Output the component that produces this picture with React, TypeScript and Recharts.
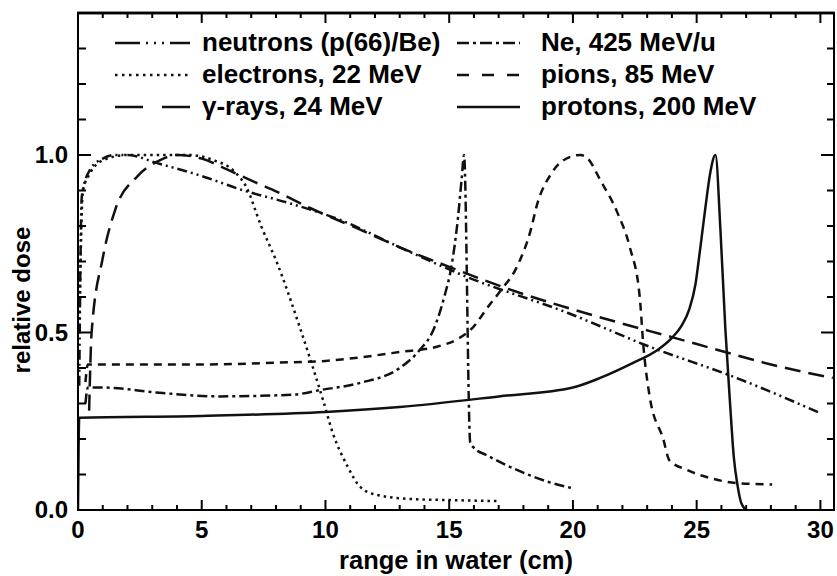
import React from 'react';
import { LineChart, Line, XAxis, YAxis, ReferenceArea, ReferenceLine } from 'recharts';

// Depth–dose curves in water for several therapy beams.

const W = 837;
const H = 576;
const MARGIN = { top: 13, right: 3, bottom: 0, left: 0 };
const X_AXIS_H = 66;
const Y_AXIS_W = 78;
const PLOT_LEFT = MARGIN.left + Y_AXIS_W;
const PLOT_TOP = MARGIN.top;
const PLOT_W = W - MARGIN.left - MARGIN.right - Y_AXIS_W;
const PLOT_H = H - MARGIN.top - MARGIN.bottom - X_AXIS_H;
const PLOT_RIGHT = PLOT_LEFT + PLOT_W;
const PLOT_BOTTOM = PLOT_TOP + PLOT_H;
const FONT = 'Liberation Sans, Arial, Helvetica, sans-serif';

const X_MAX = 30.55;
const Y_MAX = 1.4;

const xTicks = Array.from({ length: 31 }, (_, i) => i);
const xTickLabels = [0, 5, 10, 15, 20, 25, 30];
const yTicks = [0, 0.1, 0.2, 0.3, 0.4, 0.5, 0.6, 0.7, 0.8, 0.9, 1.0, 1.1, 1.2, 1.3, 1.4];
const yTickLabels = ['0.0', '0.5', '1.0'];

// neutrons (p(66)/Be)
const neutronDepth = [0.05, 0.15, 0.3, 0.5, 1.0, 1.5, 2.0, 3.2, 4.9, 6.7, 8.5, 10.6, 13.0, 15.7, 19.8, 23.1, 26.5, 30.0];
const neutronDose = [0.35, 0.88, 0.93, 0.96, 0.99, 1.0, 1.0, 0.977, 0.943, 0.9, 0.865, 0.817, 0.74, 0.657, 0.555, 0.46, 0.375, 0.273];

// electrons, 22 MeV
const electronDepth = [0.05, 0.2, 0.5, 1.0, 2.0, 3.0, 4.5, 5.5, 6.3, 6.8, 7.4, 8.05, 9.0, 9.9, 10.3, 10.9, 11.4, 12.1, 13.7, 15.0, 17.0];
const electronDose = [0.5, 0.9, 0.95, 0.985, 1.0, 1.0, 1.0, 0.985, 0.955, 0.91, 0.8, 0.695, 0.507, 0.31, 0.216, 0.122, 0.065, 0.042, 0.03, 0.028, 0.025];

// γ-rays, 24 MeV
const gammaDepth = [0.45, 0.55, 1.0, 1.5, 2.4, 3.3, 4.0, 5.0, 6.0, 7.1, 8.05, 9.4, 11.4, 13.0, 15.0, 17.5, 20.0, 22.0, 24.0, 26.0, 28.0, 30.5];
const gammaDose = [0.28, 0.5, 0.71, 0.845, 0.94, 0.985, 1.0, 0.99, 0.96, 0.925, 0.896, 0.85, 0.79, 0.74, 0.685, 0.62, 0.565, 0.525, 0.487, 0.448, 0.41, 0.372];

// Ne, 425 MeV/u
const neonDepth = [0.3, 0.4, 1.0, 3.3, 5.7, 8.7, 9.8, 11.4, 13.0, 13.8, 14.36, 14.8, 15.1, 15.35, 15.5, 15.6, 15.85, 16.0, 16.5, 17.9, 18.96, 20.0];
const neonDose = [0.3, 0.345, 0.345, 0.33, 0.32, 0.325, 0.338, 0.358, 0.4, 0.45, 0.507, 0.6, 0.69, 0.82, 0.93, 1.0, 0.19, 0.175, 0.155, 0.108, 0.08, 0.061];

// pions, 85 MeV
const pionDepth = [0.3, 0.4, 2.0, 5.0, 8.0, 10.0, 11.4, 13.0, 14.5, 15.3, 15.9, 16.6, 17.1, 17.7, 18.3, 18.55, 19.15, 19.9, 20.3, 20.6, 21.1, 21.8, 22.3, 22.7, 22.85, 23.1, 23.65, 23.9, 24.6, 25.55, 26.6, 28.05];
const pionDose = [0.36, 0.41, 0.41, 0.41, 0.415, 0.42, 0.43, 0.445, 0.46, 0.48, 0.51, 0.575, 0.62, 0.68, 0.79, 0.86, 0.95, 0.995, 1.0, 0.99, 0.93, 0.837, 0.74, 0.6, 0.46, 0.32, 0.2, 0.14, 0.113, 0.09, 0.076, 0.072];

// protons, 200 MeV
const protonDepth = [0, 0.05, 5, 10, 13, 17, 20, 21.1, 22.45, 23.4, 24.0, 24.4, 24.7, 24.95, 25.15, 25.35, 25.55, 25.76, 25.96, 26.16, 26.35, 26.5, 26.65, 26.8, 27.0];
const protonDose = [0, 0.26, 0.265, 0.276, 0.29, 0.32, 0.345, 0.372, 0.415, 0.45, 0.485, 0.52, 0.565, 0.635, 0.74, 0.85, 0.95, 1.0, 0.79, 0.51, 0.3, 0.15, 0.07, 0.02, 0.0];

const zip = (xs: number[], ys: number[]) => xs.map((x, i) => ({ x, y: ys[i] }));

type Series = {
  key: string;
  label: string;
  data: { x: number; y: number }[];
  dash?: string;
  legendDash?: string;
  col: number;
  row: number;
};

const series: Series[] = [
  { key: 'neutrons', label: 'neutrons (p(66)/Be)', data: zip(neutronDepth, neutronDose), dash: '10 4 2 4 2 4', legendDash: '25 6 2 6 2 6 2 6 25', col: 0, row: 0 },
  { key: 'electrons', label: 'electrons, 22 MeV', data: zip(electronDepth, electronDose), dash: '2.5 4', legendDash: '2.5 4.5', col: 0, row: 1 },
  { key: 'gamma', label: 'γ-rays, 24 MeV', data: zip(gammaDepth, gammaDose), dash: '16 8', legendDash: '28 19', col: 0, row: 2 },
  { key: 'neon', label: 'Ne, 425 MeV/u', data: zip(neonDepth, neonDose), dash: '10 4 3 4', legendDash: '12 4 3 4', col: 1, row: 0 },
  { key: 'pions', label: 'pions, 85 MeV', data: zip(pionDepth, pionDose), dash: '8 6', legendDash: '12 13', col: 1, row: 1 },
  { key: 'protons', label: 'protons, 200 MeV', data: zip(protonDepth, protonDose), col: 1, row: 2 },
];

const isMajorY = (v: number) => Math.abs(v * 2 - Math.round(v * 2)) < 1e-6;

// Bottom axis tick: inward tick on the bottom frame, mirrored on the top frame.
const BottomTick = (props: any) => {
  const { x, payload } = props;
  const v = payload.value as number;
  const major = xTickLabels.includes(v);
  const len = major ? 10 : 5;
  return (
    <g>
      <line x1={x} x2={x} y1={PLOT_BOTTOM} y2={PLOT_BOTTOM - len} stroke="#000" strokeWidth={2} />
      <line x1={x} x2={x} y1={PLOT_TOP} y2={PLOT_TOP + len} stroke="#000" strokeWidth={2} />
      {major && (
        <text x={x} y={PLOT_BOTTOM + 28} textAnchor="middle" fontFamily={FONT} fontWeight="bold" fontSize={24} fill="#000">
          {v}
        </text>
      )}
    </g>
  );
};

// Left axis tick: inward tick on the left frame, mirrored on the right frame.
const LeftTick = (props: any) => {
  const { y, payload } = props;
  const v = payload.value as number;
  const major = isMajorY(v) && v < 1.05;
  return (
    <g>
      <line x1={PLOT_LEFT} x2={PLOT_LEFT + (major ? 13 : 8)} y1={y} y2={y} stroke="#000" strokeWidth={2} />
      <line x1={PLOT_RIGHT} x2={PLOT_RIGHT - (major ? 13 : 7)} y1={y} y2={y} stroke="#000" strokeWidth={2} />
      {major && (
        <text x={PLOT_LEFT - 10} y={y + 8} textAnchor="end" fontFamily={FONT} fontWeight="bold" fontSize={24} fill="#000">
          {yTickLabels[Math.round(v * 2)]}
        </text>
      )}
    </g>
  );
};

const XTitle = () => (
  <text x={(PLOT_LEFT + PLOT_RIGHT) / 2} y={569} textAnchor="middle" fontFamily={FONT} fontWeight="bold" fontSize={25.5} fill="#000">
    range in water (cm)
  </text>
);

const YTitle = () => (
  <text
    x={0}
    y={0}
    transform="translate(30, 300) rotate(-90)"
    textAnchor="middle"
    fontFamily={FONT}
    fontWeight="bold"
    fontSize={24}
    fill="#000"
  >
    relative dose
  </text>
);

// Legend: two columns of three entries inside the upper plot area,
// drawn together with the upper edge of the frame.
const legendCols = [
  { x1: 115, x2: 190, tx: 202 },
  { x1: 457, x2: 520, tx: 541 },
];
const legendRows = [43, 75, 107];

const LegendBox = () => (
  <svg
    width={W}
    height={125}
    style={{ position: 'absolute', top: 0, left: 0, display: 'block', pointerEvents: 'none' }}
  >
    <line x1={PLOT_LEFT - 1} x2={PLOT_RIGHT + 1} y1={PLOT_TOP} y2={PLOT_TOP} stroke="#000" strokeWidth={2.5} />
    {series.map((s) => {
      const c = legendCols[s.col];
      const ly = legendRows[s.row];
      return (
        <g key={s.key}>
          <line x1={c.x1} x2={c.x2} y1={ly} y2={ly} stroke="#111" strokeWidth={2.5} strokeDasharray={s.legendDash} />
          <text x={c.tx} y={ly + 8} fontFamily={FONT} fontWeight="bold" fontSize={26} fill="#000">
            {s.label}
          </text>
        </g>
      );
    })}
  </svg>
);

export default function App() {
  return (
    <div style={{ position: 'absolute', top: 0, left: 0, width: W, height: H, background: '#fff', overflow: 'hidden' }}>
      <LegendBox />
      <LineChart width={W} height={H} margin={MARGIN}>
        <XAxis
          type="number"
          dataKey="x"
          domain={[0, X_MAX]}
          allowDataOverflow
          ticks={xTicks}
          interval={0}
          height={X_AXIS_H}
          tickSize={0}
          tickMargin={0}
          tickLine={false}
          tick={<BottomTick />}
          axisLine={{ stroke: '#000', strokeWidth: 2 }}
          label={<XTitle />}
        />
        <YAxis
          type="number"
          dataKey="y"
          domain={[0, Y_MAX]}
          allowDataOverflow
          ticks={yTicks}
          interval={0}
          width={Y_AXIS_W}
          tickSize={0}
          tickMargin={0}
          tickLine={false}
          tick={<LeftTick />}
          axisLine={{ stroke: '#000', strokeWidth: 2 }}
          label={<YTitle />}
        />
        {/* plot frame */}
        <ReferenceArea
          x1={0}
          x2={X_MAX}
          y1={0}
          y2={Y_MAX}
          stroke="#000"
          strokeWidth={2}
          fill="none"
          fillOpacity={0}
          ifOverflow="visible"
        />
        <ReferenceLine y={Y_MAX} stroke="#000" strokeWidth={2.5} ifOverflow="visible" />
        {series.map((s) => (
          <Line
            key={s.key}
            data={s.data}
            dataKey="y"
            name={s.label}
            type="monotone"
            stroke="#111"
            strokeWidth={2.5}
            strokeDasharray={s.dash}
            dot={false}
            activeDot={false}
            isAnimationActive={false}
          />
        ))}
      </LineChart>
    </div>
  );
}
